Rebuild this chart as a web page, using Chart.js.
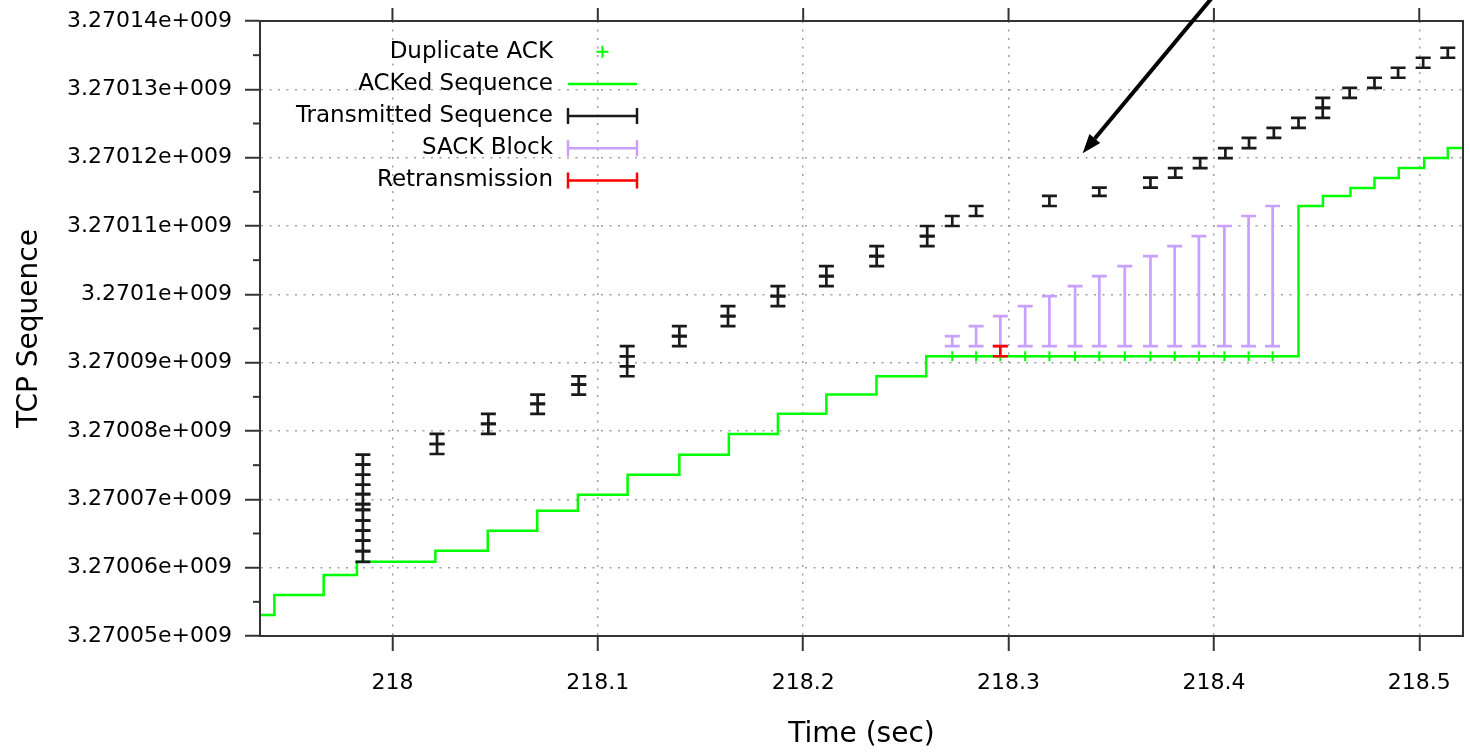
<!DOCTYPE html>
<html lang="en">
<head>
  <meta charset="UTF-8">
  <title>TCP Sequence</title>
  <script src="https://cdn.jsdelivr.net/npm/chart.js"></script>
  <style>
    html, body { margin: 0; padding: 0; background: #fff; }
    canvas { display: block; }
  </style>
</head>
<body>
  <canvas id="seqChart" width="1470" height="754"></canvas>

  <script>
    // ACKed sequence (step line): time where the ack changes, new ack value
    const ackTime = [217.9355, 217.9425, 217.9665, 217.9827, 218.0209, 218.0464, 218.0705, 218.0903,
      218.1145, 218.1397, 218.1638, 218.1877, 218.2113, 218.2357, 218.2599, 218.4412, 218.4531,
      218.4665, 218.4782, 218.4900, 218.5024, 218.5139, 218.5213];
    const ackSeq = [3270053078, 3270056010, 3270058942, 3270060850, 3270062460, 3270065391, 3270068323,
      3270070668, 3270073600, 3270076532, 3270079566, 3270082542, 3270085327, 3270088009, 3270090941,
      3270112929, 3270114395, 3270115567, 3270117033, 3270118499, 3270119965, 3270121431, 3270121431];

    // Transmitted segments: one entry per segment
    const txTime = [
      217.9856, 217.9856, 217.9856, 217.9856, 217.9856, 217.9856, 217.9856, 217.9856, 217.9856, 217.9856, 217.9856,
      218.0217, 218.0217, 218.0467, 218.0467, 218.0707, 218.0707, 218.0907, 218.0907,
      218.1143, 218.1143, 218.1143, 218.1397, 218.1397, 218.1634, 218.1634, 218.1877, 218.1877,
      218.2113, 218.2113, 218.2358, 218.2358, 218.2604, 218.2604, 218.2726, 218.2842,
      218.3199, 218.3442, 218.3691, 218.3812, 218.3933, 218.4056, 218.4171, 218.4292, 218.4412,
      218.4530, 218.4530, 218.4661, 218.4782, 218.4897, 218.5019, 218.5139];
    const txLow = [
      3270060850, 3270062416, 3270063970, 3270065435, 3270066901, 3270068470, 3270069305, 3270070771, 3270072134, 3270073600, 3270075066,
      3270076634, 3270078100, 3270079566, 3270081032, 3270082498, 3270083964, 3270085327, 3270086793,
      3270088010, 3270089475, 3270090941, 3270092407, 3270093873, 3270095339, 3270096805, 3270098270, 3270099736,
      3270101202, 3270102668, 3270104134, 3270105600, 3270107066, 3270108532, 3270109997, 3270111463,
      3270112929, 3270114395, 3270115626, 3270117092, 3270118455, 3270119921, 3270121387, 3270122897, 3270124363,
      3270125829, 3270127294, 3270128760, 3270130226, 3270131692, 3270133158, 3270134624];
    const txHigh = [
      3270062416, 3270063970, 3270065435, 3270066901, 3270068470, 3270069305, 3270070771, 3270072134, 3270073600, 3270075066, 3270076532,
      3270078100, 3270079566, 3270081032, 3270082498, 3270083964, 3270085327, 3270086793, 3270088010,
      3270089475, 3270090941, 3270092407, 3270093873, 3270095339, 3270096805, 3270098270, 3270099736, 3270101202,
      3270102668, 3270104134, 3270105600, 3270107066, 3270108532, 3270109997, 3270111463, 3270112929,
      3270114395, 3270115626, 3270117092, 3270118455, 3270119921, 3270121387, 3270122897, 3270124363, 3270125829,
      3270127294, 3270128760, 3270130226, 3270131692, 3270133158, 3270134624, 3270136088];

    // Duplicate ACKs and the SACK block carried by each
    const dupTime = [218.2726, 218.2842, 218.2960, 218.3081, 218.3199, 218.3324, 218.3442,
      218.3566, 218.3691, 218.3809, 218.3927, 218.4051, 218.4169, 218.4286];
    const dupSeq = 3270090941;
    const sackLow = 3270092407;
    const sackHigh = [3270093873, 3270095339, 3270096805, 3270098270, 3270099736, 3270101202, 3270102668,
      3270104134, 3270105600, 3270107066, 3270108532, 3270109997, 3270111463, 3270112929];

    // Retransmission
    const rtxTime = [218.2960];
    const rtxLow = [3270090941];
    const rtxHigh = [3270092407];

    // Arrow annotation (data coordinates): from, to
    const arrowFrom = [218.3986, 3270143230];
    const arrowTo = [218.3361, 3270120654];

    const xMin = 217.9355, xMax = 218.5213;
    const yMin = 3270050000, yMax = 3270140000;

    const GREEN = '#00ff00';
    const BLACK = '#1a1a1a';
    const PURPLE = '#c8a0ff';
    const RED = '#ff0000';
    const TEXT = '#000';
    const FONT = "'DejaVu Sans', sans-serif";

    function bars(times, lows, highs) {
      return times.map((t, i) => ({ x: t, y: lows[i], lo: lows[i], hi: highs[i] }));
    }

    function drawBar(ctx, px, y1, y2, half) {
      ctx.beginPath();
      ctx.moveTo(px, y1); ctx.lineTo(px, y2);
      ctx.moveTo(px - half, y1); ctx.lineTo(px + half, y1);
      ctx.moveTo(px - half, y2); ctx.lineTo(px + half, y2);
      ctx.stroke();
    }

    // gnuplot style %g label: 3.2701e+009
    function expLabel(v) {
      return parseFloat((v / 1e9).toPrecision(6)) + 'e+009';
    }

    const seqPlugin = {
      id: 'seqPlugin',
      afterDatasetsDraw(chart) {
        const { ctx, chartArea } = chart;
        const x = chart.scales.x, y = chart.scales.y;
        ctx.save();
        ctx.beginPath();
        ctx.rect(chartArea.left, chartArea.top, chartArea.width, chartArea.height);
        ctx.clip();
        ctx.lineWidth = 2.7;
        chart.data.datasets.forEach(ds => {
          if (!ds.errorBars) return;
          ctx.strokeStyle = ds.borderColor;
          ds.data.forEach(p => {
            drawBar(ctx, x.getPixelForValue(p.x), y.getPixelForValue(p.lo), y.getPixelForValue(p.hi), 7.5);
          });
        });
        ctx.restore();
      },
      afterDraw(chart) {
        const { ctx, chartArea } = chart;
        const x = chart.scales.x, y = chart.scales.y;
        ctx.save();

        // minor ticks on the y axis
        ctx.strokeStyle = '#333';
        ctx.lineWidth = 2;
        y.ticks.forEach((t, i) => {
          if (i === y.ticks.length - 1) return;
          const py = y.getPixelForValue(t.value + 5000);
          ctx.beginPath();
          ctx.moveTo(chartArea.left - 7, py); ctx.lineTo(chartArea.left, py);
          ctx.stroke();
        });
        // ticks on the top border
        x.ticks.forEach(t => {
          const px = x.getPixelForValue(t.value);
          ctx.beginPath();
          ctx.moveTo(px, chartArea.top - 13); ctx.lineTo(px, chartArea.top);
          ctx.stroke();
        });

        // frame
        ctx.strokeRect(chartArea.left, chartArea.top, chartArea.width, chartArea.height);

        // legend
        const rowY = chartArea.top + 30.7;
        const rowH = 32.2;
        const textRight = 553, s1 = 568, s2 = 637;
        ctx.font = '23px ' + FONT;
        ctx.textAlign = 'right';
        ctx.textBaseline = 'middle';
        chart.data.datasets.forEach((ds, i) => {
          const ly = rowY + i * rowH;
          ctx.fillStyle = TEXT;
          ctx.fillText(ds.label, textRight, ly);
          ctx.strokeStyle = ds.borderColor;
          ctx.lineWidth = 2.5;
          if (ds.errorBars) {
            ctx.beginPath();
            ctx.moveTo(s1, ly); ctx.lineTo(s2, ly);
            ctx.moveTo(s1, ly - 8); ctx.lineTo(s1, ly + 8);
            ctx.moveTo(s2, ly - 8); ctx.lineTo(s2, ly + 8);
            ctx.stroke();
          } else if (ds.showLine === false) {
            const cx = (s1 + s2) / 2;
            ctx.lineWidth = 2;
            ctx.beginPath();
            ctx.moveTo(cx - 6, ly); ctx.lineTo(cx + 6, ly);
            ctx.moveTo(cx, ly - 6); ctx.lineTo(cx, ly + 6);
            ctx.stroke();
          } else {
            ctx.beginPath();
            ctx.moveTo(s1, ly); ctx.lineTo(s2, ly);
            ctx.stroke();
          }
        });

        // arrow
        const ax1 = x.getPixelForValue(arrowFrom[0]), ay1 = y.getPixelForValue(arrowFrom[1]);
        const ax2 = x.getPixelForValue(arrowTo[0]), ay2 = y.getPixelForValue(arrowTo[1]);
        const ang = Math.atan2(ay2 - ay1, ax2 - ax1);
        const headLen = 19, headHalf = 7;
        const bx = ax2 - headLen * Math.cos(ang), by = ay2 - headLen * Math.sin(ang);
        ctx.strokeStyle = '#000';
        ctx.fillStyle = '#000';
        ctx.lineWidth = 4;
        ctx.beginPath();
        ctx.moveTo(ax1, ay1); ctx.lineTo(bx, by);
        ctx.stroke();
        ctx.beginPath();
        ctx.moveTo(ax2, ay2);
        ctx.lineTo(bx + headHalf * Math.sin(ang), by - headHalf * Math.cos(ang));
        ctx.lineTo(bx - headHalf * Math.sin(ang), by + headHalf * Math.cos(ang));
        ctx.closePath();
        ctx.fill();

        ctx.restore();
      }
    };

    const gridOpts = { color: '#a0a0a0', lineWidth: 1.5, tickColor: '#333', tickWidth: 2, tickLength: 15 };
    const borderOpts = { display: true, color: '#333', width: 2, dash: [2, 6.5] };

    const seqChart = new Chart(document.getElementById('seqChart').getContext('2d'), {
      type: 'line',
      data: {
        datasets: [
          {
            label: 'Duplicate ACK',
            data: dupTime.map(t => ({ x: t, y: dupSeq })),
            showLine: false,
            borderColor: GREEN,
            pointStyle: 'cross',
            pointRadius: 5,
            pointBorderWidth: 2,
            pointBorderColor: GREEN
          },
          {
            label: 'ACKed Sequence',
            data: ackTime.map((t, i) => ({ x: t, y: ackSeq[i] })),
            stepped: 'before',
            borderColor: GREEN,
            borderWidth: 2.5,
            pointRadius: 0,
            fill: false
          },
          {
            label: 'Transmitted Sequence',
            data: bars(txTime, txLow, txHigh),
            errorBars: true,
            showLine: false,
            pointRadius: 0,
            borderColor: BLACK
          },
          {
            label: 'SACK Block',
            data: bars(dupTime, dupTime.map(() => sackLow), sackHigh),
            errorBars: true,
            showLine: false,
            pointRadius: 0,
            borderColor: PURPLE
          },
          {
            label: 'Retransmission',
            data: bars(rtxTime, rtxLow, rtxHigh),
            errorBars: true,
            showLine: false,
            pointRadius: 0,
            borderColor: RED
          }
        ]
      },
      options: {
        responsive: false,
        animation: false,
        devicePixelRatio: 1,
        layout: { padding: { top: 21, right: 2, left: 0, bottom: 0 } },
        plugins: {
          legend: { display: false },
          tooltip: { enabled: false }
        },
        scales: {
          x: {
            type: 'linear',
            min: xMin,
            max: xMax,
            afterFit: s => { s.height = 118; s.paddingLeft = 0; s.paddingRight = 0; },
            grid: gridOpts,
            border: borderOpts,
            ticks: {
              stepSize: 0.1,
              includeBounds: false,
              padding: 19,
              color: TEXT,
              font: { family: FONT, size: 22 },
              callback: v => String(Math.round(v * 10) / 10)
            },
            title: {
              display: true,
              text: 'Time (sec)',
              color: TEXT,
              font: { family: FONT, size: 28 },
              padding: { top: 0, bottom: 2 }
            }
          },
          y: {
            type: 'linear',
            min: yMin,
            max: yMax,
            afterFit: s => { s.width = 260; s.paddingTop = 0; s.paddingBottom = 0; },
            grid: gridOpts,
            border: borderOpts,
            ticks: {
              stepSize: 10000,
              padding: 13,
              color: TEXT,
              font: { family: FONT, size: 22 },
              callback: v => expLabel(v)
            },
            title: {
              display: true,
              text: 'TCP Sequence',
              color: TEXT,
              font: { family: FONT, size: 28 },
              padding: { top: 13, bottom: 0 }
            }
          }
        }
      },
      plugins: [seqPlugin]
    });
  </script>
</body>
</html>
